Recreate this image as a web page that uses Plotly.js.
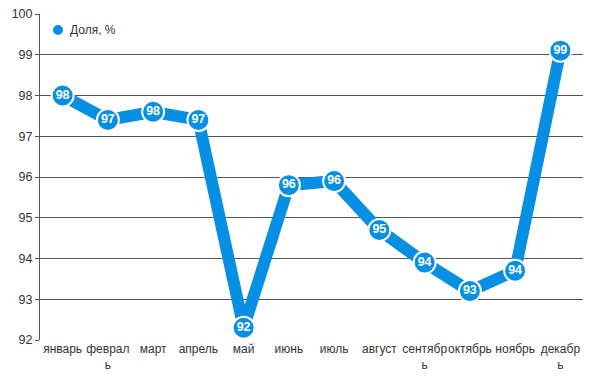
<!DOCTYPE html>
<html>
<head>
<meta charset="utf-8">
<script src="https://cdn.plot.ly/plotly-3.0.1.min.js"></script>
<style>
  html, body { margin: 0; padding: 0; background: #fff; }
  #chart { width: 594px; height: 384px; }
</style>
</head>
<body>
<div id="chart"></div>
<script>
const months = ['январь', 'феврал<br>ь', 'март', 'апрель', 'май', 'июнь', 'июль', 'август', 'сентябр<br>ь', 'октябрь', 'ноябрь', 'декабр<br>ь'];
const share = [98.0, 97.4, 97.6, 97.4, 92.3, 95.8, 95.9, 94.7, 93.9, 93.2, 93.7, 99.1];
const seriesName = 'Доля, %';
const yTicks = [92, 93, 94, 95, 96, 97, 98, 99, 100];

const blue = '#078fe3';
const font = "'Liberation Sans', Arial, sans-serif";

// plot area in pixels (for legend placement helpers)
const L = 40, R = 11, T = 14, B = 44, W = 594, H = 384;
const pw = W - L - R, ph = H - T - B;
const px = v => (v - L) / pw;
const py = v => (H - B - v) / ph;

const traces = [
  {
    x: months,
    y: share,
    type: 'scatter',
    mode: 'lines+markers+text',
    showlegend: false,
    line: { color: blue, width: 12 },
    marker: { color: blue, size: 22, line: { color: '#fff', width: 2 } },
    text: share.map(v => String(Math.round(v))),
    textposition: 'middle center',
    textfont: { family: font, size: 12.5, color: '#fff', weight: 'bold' },
    cliponaxis: false,
    hoverinfo: 'skip'
  }
];

const layout = {
  width: W,
  height: H,
  margin: { l: L, r: R, t: T, b: B },
  paper_bgcolor: '#fff',
  plot_bgcolor: '#fff',
  font: { family: font, size: 12, color: '#333' },
  showlegend: false,
  shapes: [
    { type: 'rect', xref: 'paper', yref: 'paper', x0: px(42), x1: px(124), y0: py(17), y1: py(11),
      fillcolor: '#fff', line: { width: 0 }, layer: 'above' },
    { type: 'circle', xref: 'paper', yref: 'paper', x0: px(53), x1: px(63), y0: py(35), y1: py(25),
      fillcolor: blue, line: { width: 0 }, layer: 'above' }
  ],
  annotations: [
    { text: seriesName, xref: 'paper', yref: 'paper', x: px(68), y: py(30), xanchor: 'left', yanchor: 'middle',
      showarrow: false, font: { family: font, size: 12, color: '#333' } }
  ],
  xaxis: {
    type: 'category',
    range: [-0.5, 11.5],
    showgrid: false,
    zeroline: false,
    showline: false,
    ticks: '',
    tickangle: 0,
    tickfont: { family: font, size: 12, color: '#333' },
    fixedrange: true
  },
  yaxis: {
    range: [92, 100],
    tickvals: yTicks,
    ticktext: yTicks.map(String),
    showgrid: true,
    gridcolor: '#555',
    gridwidth: 1,
    zeroline: false,
    showline: true,
    linecolor: '#555',
    linewidth: 1,
    ticks: 'outside',
    ticklen: 4,
    tickcolor: '#555',
    tickfont: { family: font, size: 12.5, color: '#333' },
    fixedrange: true
  }
};

Plotly.newPlot('chart', traces, layout, { displayModeBar: false, staticPlot: true });
</script>
</body>
</html>
